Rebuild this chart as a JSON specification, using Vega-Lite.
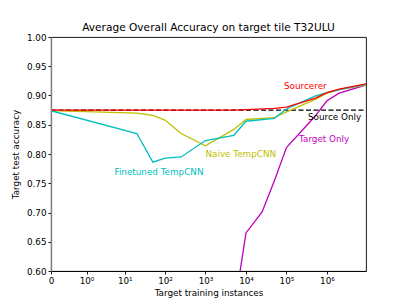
{
  "$schema": "https://vega.github.io/schema/vega-lite/v6.json",
  "width": 315,
  "height": 234,
  "autosize": {"type": "none"},
  "padding": {"left": 51, "top": 37, "right": 41, "bottom": 34},
  "title": {"text": "Average Overall Accuracy on target tile T32ULU", "font": "DejaVu Sans", "fontSize": 10.6, "fontWeight": "normal", "color": "black", "anchor": "middle", "offset": -1},
  "config": {
    "view": {"stroke": "black", "strokeWidth": 0.9},
    "font": "DejaVu Sans",
    "axis": {"labelFont": "DejaVu Sans", "titleFont": "DejaVu Sans", "labelFontSize": 8.8, "titleFontSize": 8.8, "titleFontWeight": "normal", "labelColor": "black", "titleColor": "black", "tickColor": "black", "tickSize": 3, "tickWidth": 0.9, "grid": false, "domainColor": "black", "domainWidth": 0.9}
  },
  "datasets": {
    "lines": [
      {"series": "Source Only", "n": 0, "acc": 0.875},
      {"series": "Source Only", "n": 9200000, "acc": 0.875},
      {"series": "Target Only", "n": 5000, "acc": 0.53},
      {"series": "Target Only", "n": 10000, "acc": 0.665},
      {"series": "Target Only", "n": 25000, "acc": 0.701},
      {"series": "Target Only", "n": 50000, "acc": 0.754},
      {"series": "Target Only", "n": 100000, "acc": 0.811},
      {"series": "Target Only", "n": 500000, "acc": 0.864},
      {"series": "Target Only", "n": 1000000, "acc": 0.891},
      {"series": "Target Only", "n": 2000000, "acc": 0.904},
      {"series": "Target Only", "n": 9200000, "acc": 0.918},
      {"series": "Naive TempCNN", "n": 0, "acc": 0.874},
      {"series": "Naive TempCNN", "n": 20, "acc": 0.870},
      {"series": "Naive TempCNN", "n": 50, "acc": 0.866},
      {"series": "Naive TempCNN", "n": 100, "acc": 0.858},
      {"series": "Naive TempCNN", "n": 250, "acc": 0.835},
      {"series": "Naive TempCNN", "n": 1000, "acc": 0.814},
      {"series": "Naive TempCNN", "n": 5000, "acc": 0.842},
      {"series": "Naive TempCNN", "n": 10000, "acc": 0.859},
      {"series": "Naive TempCNN", "n": 50000, "acc": 0.862},
      {"series": "Naive TempCNN", "n": 100000, "acc": 0.872},
      {"series": "Naive TempCNN", "n": 500000, "acc": 0.893},
      {"series": "Naive TempCNN", "n": 1000000, "acc": 0.904},
      {"series": "Naive TempCNN", "n": 2000000, "acc": 0.910},
      {"series": "Naive TempCNN", "n": 9200000, "acc": 0.918},
      {"series": "Finetuned TempCNN", "n": 0, "acc": 0.874},
      {"series": "Finetuned TempCNN", "n": 20, "acc": 0.835},
      {"series": "Finetuned TempCNN", "n": 50, "acc": 0.786},
      {"series": "Finetuned TempCNN", "n": 100, "acc": 0.793},
      {"series": "Finetuned TempCNN", "n": 250, "acc": 0.795},
      {"series": "Finetuned TempCNN", "n": 1000, "acc": 0.823},
      {"series": "Finetuned TempCNN", "n": 5000, "acc": 0.832},
      {"series": "Finetuned TempCNN", "n": 10000, "acc": 0.856},
      {"series": "Finetuned TempCNN", "n": 50000, "acc": 0.861},
      {"series": "Finetuned TempCNN", "n": 100000, "acc": 0.877},
      {"series": "Finetuned TempCNN", "n": 500000, "acc": 0.899},
      {"series": "Finetuned TempCNN", "n": 1000000, "acc": 0.905},
      {"series": "Finetuned TempCNN", "n": 2000000, "acc": 0.910},
      {"series": "Finetuned TempCNN", "n": 9200000, "acc": 0.919},
      {"series": "Sourcerer", "n": 0, "acc": 0.875},
      {"series": "Sourcerer", "n": 20, "acc": 0.875},
      {"series": "Sourcerer", "n": 50, "acc": 0.875},
      {"series": "Sourcerer", "n": 100, "acc": 0.875},
      {"series": "Sourcerer", "n": 250, "acc": 0.875},
      {"series": "Sourcerer", "n": 1000, "acc": 0.875},
      {"series": "Sourcerer", "n": 5000, "acc": 0.875},
      {"series": "Sourcerer", "n": 10000, "acc": 0.876},
      {"series": "Sourcerer", "n": 50000, "acc": 0.878},
      {"series": "Sourcerer", "n": 100000, "acc": 0.880},
      {"series": "Sourcerer", "n": 500000, "acc": 0.895},
      {"series": "Sourcerer", "n": 1000000, "acc": 0.905},
      {"series": "Sourcerer", "n": 2000000, "acc": 0.911},
      {"series": "Sourcerer", "n": 9200000, "acc": 0.920}
    ],
    "labels": [
      {"series": "Sourcerer", "n": 87000, "acc": 0.916},
      {"series": "Source Only", "n": 340000, "acc": 0.864},
      {"series": "Target Only", "n": 205000, "acc": 0.825},
      {"series": "Naive TempCNN", "n": 1000, "acc": 0.7995},
      {"series": "Finetuned TempCNN", "n": 5.5, "acc": 0.770}
    ]
  },
  "encoding": {
    "x": {"field": "n", "type": "quantitative",
      "scale": {"type": "symlog", "constant": 0.153, "domain": [0, 9200000], "nice": false},
      "axis": {"title": "Target training instances", "values": [0, 1, 10, 100, 1000, 10000, 100000, 1000000],
        "labelExpr": "datum.value == 0 ? '0' : '10' + ['⁰','¹','²','³','⁴','⁵','⁶'][round(log(datum.value)/LN10)]",
        "labelPadding": 2, "titlePadding": 4, "labelFlush": false}},
    "y": {"field": "acc", "type": "quantitative",
      "scale": {"domain": [0.6, 1.0], "nice": false, "zero": false},
      "axis": {"title": "Target test accuracy", "values": [0.6, 0.65, 0.7, 0.75, 0.8, 0.85, 0.9, 0.95, 1.0], "format": ".2f",
        "labelPadding": 2, "titlePadding": 6, "domainColor": "#808080", "domainWidth": 1.4, "zindex": 1}},
    "color": {"field": "series", "type": "nominal", "legend": null,
      "scale": {"domain": ["Source Only", "Target Only", "Naive TempCNN", "Finetuned TempCNN", "Sourcerer"],
        "range": ["#000000", "#BF00BF", "#BFBF00", "#00BFBF", "#FF0000"]}}
  },
  "layer": [
    {"data": {"name": "lines"}, "transform": [{"filter": "datum.series == 'Source Only'"}],
     "mark": {"type": "line", "clip": true, "strokeWidth": 1.3, "strokeDash": [5, 2.5]}},
    {"data": {"name": "lines"}, "transform": [{"filter": "datum.series == 'Target Only'"}],
     "mark": {"type": "line", "clip": true, "strokeWidth": 1.3}},
    {"data": {"name": "lines"}, "transform": [{"filter": "datum.series == 'Naive TempCNN'"}],
     "mark": {"type": "line", "clip": true, "strokeWidth": 1.3}},
    {"data": {"name": "lines"}, "transform": [{"filter": "datum.series == 'Finetuned TempCNN'"}],
     "mark": {"type": "line", "clip": true, "strokeWidth": 1.3}},
    {"data": {"name": "lines"}, "transform": [{"filter": "datum.series == 'Sourcerer'"}],
     "mark": {"type": "line", "clip": true, "strokeWidth": 1.3}},
    {"data": {"name": "labels"},
     "mark": {"type": "text", "align": "left", "baseline": "middle", "font": "DejaVu Sans", "fontSize": 8.8},
     "encoding": {"text": {"field": "series"}}}
  ]
}
